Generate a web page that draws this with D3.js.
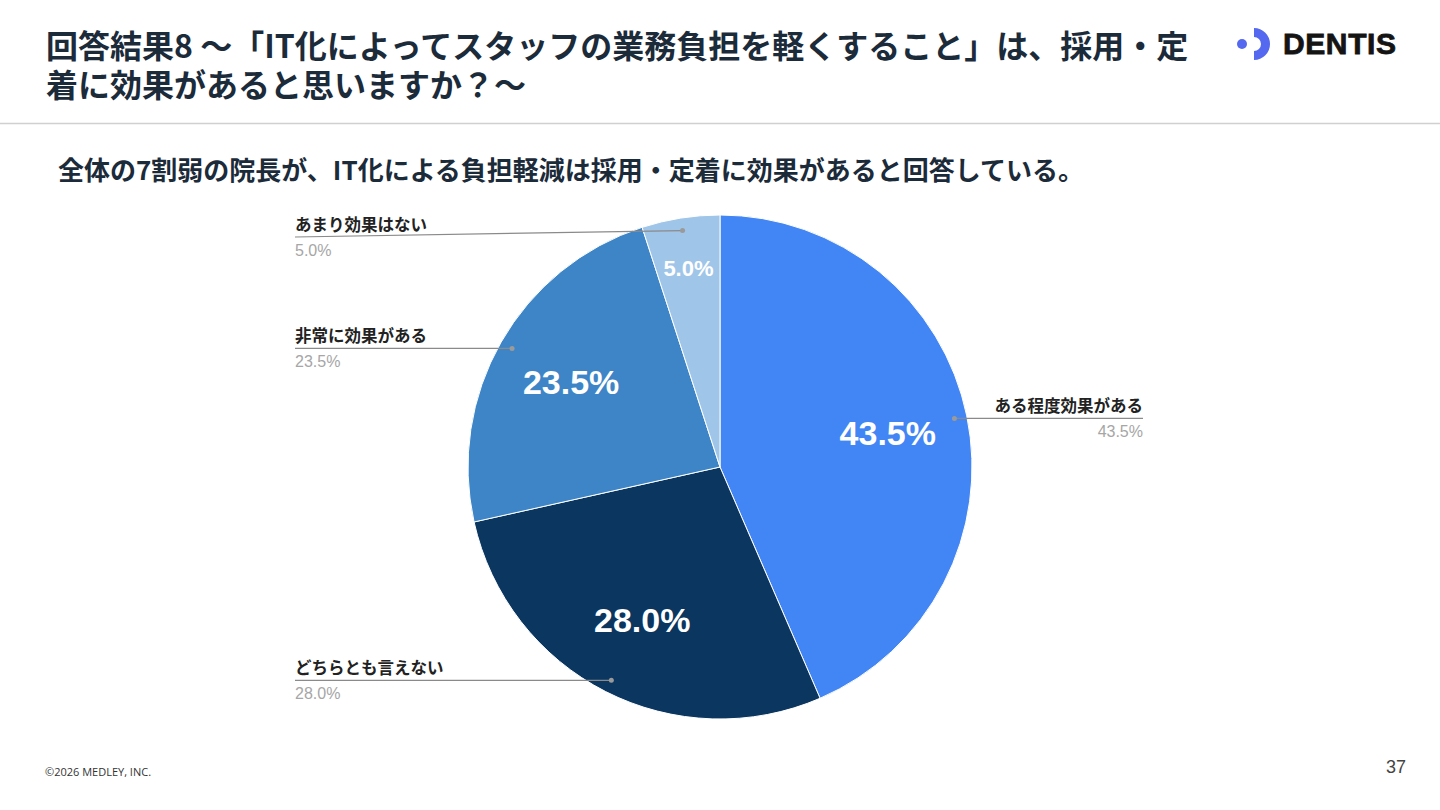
<!DOCTYPE html>
<html>
<head>
<meta charset="UTF-8">
<title>回答結果8</title>
<style>
    body {
        margin: 0;
        background: #fff;
        font-family: "Noto Sans CJK JP", "Noto Sans", sans-serif;
    }
</style>
</head>
<body>
<script src="https://cdn.jsdelivr.net/npm/d3@7"></script>
<script>

    var categories = ["ある程度効果がある", "どちらとも言えない", "非常に効果がある", "あまり効果はない"];
    var values = [43.5, 28.0, 23.5, 5.0];
    var colors = ["#4285f4", "#0b3660", "#3d85c6", "#9fc5e8"];

    var titleLines = [
        "回答結果8 〜「IT化によってスタッフの業務負担を軽くすること」は、採用・定",
        "着に効果があると思いますか？〜"
    ];
    var subtitle = "全体の7割弱の院長が、IT化による負担軽減は採用・定着に効果があると回答している。";

    var width = 1440,
        height = 810;

    var svg = d3.select("body")
        .append("svg")
        .attr("width", width)
        .attr("height", height);

    // header
    svg.selectAll(".title")
        .data(titleLines)
        .enter().append("text")
        .attr("class", "title")
        .attr("x", 46)
        .attr("y", function(d, i) { return 58 + i * 39; })
        .attr("fill", "#1c2b3a")
        .attr("font-size", 32)
        .attr("font-weight", "bold")
        .text(function(d) { return d; });

    svg.append("line")
        .attr("x1", 0).attr("x2", width)
        .attr("y1", 123.5).attr("y2", 123.5)
        .attr("stroke", "#d0d0d0")
        .attr("stroke-width", 1.5);

    svg.append("text")
        .attr("x", 58)
        .attr("y", 180)
        .attr("fill", "#1c2b3a")
        .attr("font-size", 26)
        .attr("font-weight", "bold")
        .text(subtitle);

    // logo
    var logo = svg.append("g");
    logo.append("circle")
        .attr("cx", 1242).attr("cy", 44).attr("r", 5)
        .attr("fill", "#5468f0");
    logo.append("path")
        .attr("transform", "translate(1254,44)")
        .attr("d", d3.arc().innerRadius(7).outerRadius(16).startAngle(0).endAngle(Math.PI)())
        .attr("fill", "#5468f0");
    logo.append("text")
        .attr("x", 1283).attr("y", 54)
        .attr("font-family", "Liberation Sans, Arial, sans-serif")
        .attr("font-size", 30)
        .attr("font-weight", "bold")
        .attr("letter-spacing", 0.6)
        .attr("stroke", "#141414")
        .attr("stroke-width", 0.8)
        .attr("fill", "#141414")
        .text("DENTIS");

    // pie
    var cx = 720, cy = 467, radius = 252;

    var pie = d3.pie().sort(null).value(function(d) { return d; });
    var arcs = pie(values);

    var arc = d3.arc().innerRadius(0).outerRadius(radius);
    var dotArc = d3.arc().innerRadius(radius * 0.95).outerRadius(radius * 0.95);

    var g = svg.append("g").attr("transform", "translate(" + cx + "," + cy + ")");

    g.selectAll(".slice")
        .data(arcs)
        .enter().append("path")
        .attr("class", "slice")
        .attr("d", arc)
        .attr("fill", function(d, i) { return colors[i]; })
        .attr("stroke", "#fff")
        .attr("stroke-width", 1);

    g.selectAll(".inner")
        .data(arcs)
        .enter().append("text")
        .attr("class", "inner")
        .attr("transform", function(d) {
            var small = d.data < 10;
            var r = radius * (small ? 0.8 : 0.68);
            var p = d3.arc().innerRadius(r).outerRadius(r).centroid(d);
            return "translate(" + p[0] + "," + p[1] + ")";
        })
        .attr("dy", "0.36em")
        .attr("text-anchor", "middle")
        .attr("fill", "#fff")
        .attr("font-family", "Liberation Sans, Arial, sans-serif")
        .attr("font-weight", "bold")
        .attr("font-size", function(d) { return d.data < 10 ? 22 : 34; })
        .text(function(d) { return d.data.toFixed(1) + "%"; });

    // outside labels with leader lines
    var leftX = 295 - cx, rightX = 1143 - cx, topLimit = -230;

    var labels = g.selectAll(".label")
        .data(arcs)
        .enter().append("g")
        .attr("class", "label");

    labels.each(function(d, i) {
        var p = dotArc.centroid(d);
        var right = p[0] > 0;
        var ly = Math.max(p[1], topLimit);
        var lx = right ? rightX : leftX;
        var sel = d3.select(this);

        sel.append("line")
            .attr("x1", p[0]).attr("y1", p[1])
            .attr("x2", lx).attr("y2", ly)
            .attr("stroke", "#8a8a8a")
            .attr("stroke-width", 1.2);

        sel.append("circle")
            .attr("cx", p[0]).attr("cy", p[1]).attr("r", 2.5)
            .attr("fill", "#9a9a9a");

        sel.append("text")
            .attr("x", lx).attr("y", ly - 6)
            .attr("text-anchor", right ? "end" : "start")
            .attr("font-size", 16.5)
            .attr("font-weight", "bold")
            .attr("fill", "#222")
            .text(categories[i]);

        sel.append("text")
            .attr("x", lx).attr("y", ly + 19)
            .attr("text-anchor", right ? "end" : "start")
            .attr("font-family", "Liberation Sans, Arial, sans-serif")
            .attr("font-size", 16)
            .attr("fill", "#a6a6a6")
            .text(d.data.toFixed(1) + "%");
    });

    // footer
    svg.append("text")
        .attr("x", 45).attr("y", 776)
        .attr("font-family", "Open Sans, Noto Sans, sans-serif")
        .attr("font-size", 11)
        .attr("fill", "#333")
        .text("©2026 MEDLEY, INC.");

    svg.append("text")
        .attr("x", 1406).attr("y", 773)
        .attr("text-anchor", "end")
        .attr("font-family", "Liberation Sans, Arial, sans-serif")
        .attr("font-size", 18)
        .attr("fill", "#444")
        .text("37");

</script>
</body>
</html>
